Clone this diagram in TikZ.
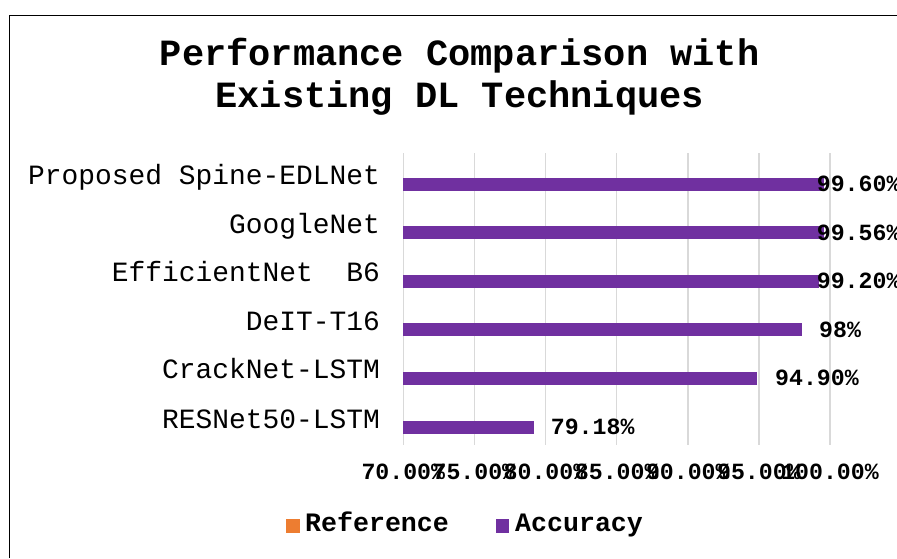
\documentclass[tikz,border=0pt]{standalone}
\usepackage{fontspec}
\newfontfamily\chartfont{Liberation Mono}
\definecolor{accpurple}{HTML}{7030A0}
\definecolor{reforange}{HTML}{ED7D31}
\definecolor{gridgray}{HTML}{D9D9D9}

\begin{document}
\begin{tikzpicture}[x=1pt,y=-1pt,
  titletxt/.style={anchor=base,inner sep=0pt,font=\chartfont\bfseries\fontsize{37}{42}\selectfont},
  cat/.style={anchor=base east,inner sep=0pt,font=\chartfont\fontsize{27.9}{30}\selectfont},
  val/.style={anchor=base west,inner sep=0pt,font=\chartfont\bfseries\fontsize{23.2}{25}\selectfont},
  ticklbl/.style={anchor=base,inner sep=0pt,font=\chartfont\bfseries\fontsize{23.2}{25}\selectfont},
  legtxt/.style={anchor=base west,inner sep=0pt,font=\chartfont\bfseries\fontsize{26.6}{28}\selectfont},
  grid line/.style={gridgray,line width=1.4pt},
  bar/.style={fill=accpurple}]
  \useasboundingbox (0,0) rectangle (897,558);
  % chart frame (only left and top edges in view)
  \draw[line width=1.3pt] (9.3,558) -- (9.3,15.7) -- (897,15.7);

  \node[titletxt] (title1) at (459.7,65) {Performance Comparison with};
  \node[titletxt] (title2) at (459.7,107) {Existing DL Techniques};

  % vertical grid, 70% .. 100% in steps of 5%
  \draw[grid line] (403.3,153) -- (403.3,445);
  \draw[grid line] (474.4,153) -- (474.4,445);
  \draw[grid line] (545.5,153) -- (545.5,445);
  \draw[grid line] (616.7,153) -- (616.7,445);
  \draw[grid line] (687.8,153) -- (687.8,445);
  \draw[grid line] (758.9,153) -- (758.9,445);
  \draw[grid line] (830.0,153) -- (830.0,445);

  % accuracy bars
  \fill[bar] (403.3,177.7) rectangle (824.2,190.7);
  \fill[bar] (403.3,226.0) rectangle (823.6,239.0);
  \fill[bar] (403.3,274.7) rectangle (818.5,287.7);
  \fill[bar] (403.3,323.0) rectangle (801.5,336.0);
  \fill[bar] (403.3,372.0) rectangle (757.4,385.0);
  \fill[bar] (403.3,420.7) rectangle (533.8,433.7);

  % category names
  \node[cat] (c1) at (380,184.5) {Proposed Spine-EDLNet};
  \node[cat] (c2) at (380,233.0) {GoogleNet};
  \node[cat] (c3) at (380,281.5) {EfficientNet\ \ B6};
  \node[cat] (c4) at (380,330.0) {DeIT-T16};
  \node[cat] (c5) at (380,378.5) {CrackNet-LSTM};
  \node[cat] (c6) at (380,428.0) {RESNet50-LSTM};

  % data labels
  \node[val] (v1) at (816.7,191.7) {99.60\%};
  \node[val] (v2) at (816.7,240.0) {99.56\%};
  \node[val] (v3) at (816.7,288.7) {99.20\%};
  \node[val] (v4) at (819.0,337.0) {98\%};
  \node[val] (v5) at (775.0,385.7) {94.90\%};
  \node[val] (v6) at (550.7,434.5) {79.18\%};

  % axis tick labels
  \node[ticklbl] (t70) at (403.3,479) {70.00\%};
  \node[ticklbl] (t75) at (474.4,479) {75.00\%};
  \node[ticklbl] (t80) at (545.5,479) {80.00\%};
  \node[ticklbl] (t85) at (616.7,479) {85.00\%};
  \node[ticklbl] (t90) at (687.8,479) {90.00\%};
  \node[ticklbl] (t95) at (758.9,479) {95.00\%};
  \node[ticklbl] (t100) at (830.0,479) {100.00\%};

  % legend
  \fill[reforange] (286,519) rectangle (300,532.7);
  \node[legtxt] (lref) at (305,531.7) {Reference};
  \fill[accpurple] (496,519) rectangle (509,532.7);
  \node[legtxt] (lacc) at (515,531.7) {Accuracy};
\end{tikzpicture}
\end{document}
